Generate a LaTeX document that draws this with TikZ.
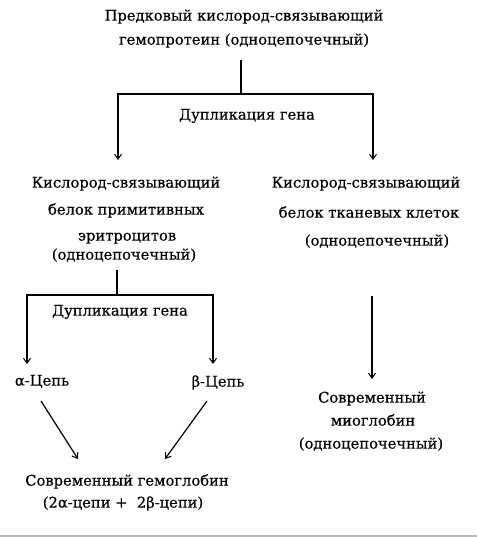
\documentclass[tikz,border=0pt]{standalone}
\usepackage{fontspec}
\setmainfont{DejaVu Serif}[FakeBold=0.4]
\usetikzlibrary{arrows.meta}
\begin{document}
\begin{tikzpicture}[x=1pt,y=1pt,
  txt/.style={font=\fontsize{14.7}{17}\selectfont, anchor=mid, inner sep=0pt},
  conn/.style={line width=1.2pt, line join=miter},
  tip/.tip={Straight Barb[length=5pt,width=7pt,line width=1pt]},
  arr/.style={conn,-tip},
  darr/.style={conn,tip-tip}]
\useasboundingbox (0,0) rectangle (477,-537);
% top
\node[txt] (t1) at (244,-18) {Предковый кислород-связывающий};
\node[txt] (t2) at (244,-42) {гемопротеин (одноцепочечный)};
\coordinate (s1) at (241,-60);
\coordinate (j1) at (241,-94);
\coordinate (jl) at (118,-94);
\coordinate (jr) at (373,-94);
\coordinate (el) at (118,-160);
\coordinate (er) at (373,-160);
\draw[conn] (s1) -- (j1);
\draw[darr] (el) -- (jl) -- (jr) -- (er);
\node[txt] (dup1) at (247,-117) {Дупликация гена};
% left block
\node[txt] (l1) at (126,-185) {Кислород-связывающий};
\node[txt] (l2) at (126,-212) {белок примитивных};
\node[txt] (l3) at (127,-238) {эритроцитов};
\node[txt] (l4) at (124,-257) {(одноцепочечный)};
% right block
\node[txt] (r1) at (366,-185) {Кислород-связывающий};
\node[txt] (r2) at (369,-215) {белок тканевых клеток};
\node[txt] (r3) at (377,-243) {(одноцепочечный)};
% second duplication
\coordinate (s2) at (117,-270);
\coordinate (j2) at (117,-295);
\coordinate (jl2) at (27,-295);
\coordinate (jr2) at (213,-295);
\coordinate (el2) at (27,-364);
\coordinate (er2) at (213,-364);
\draw[conn] (s2) -- (j2);
\draw[darr] (el2) -- (jl2) -- (jr2) -- (er2);
\node[txt] (dup2) at (120,-313) {Дупликация гена};
\node[txt] (alpha) at (42,-383) {α-Цепь};
\node[txt] (beta) at (218,-384) {β-Цепь};
% hemoglobin
\node[txt] (h1) at (127,-483) {Современный гемоглобин};
\node[txt] (h2) at (123,-505) {(2α-цепи +\ \ 2β-цепи)};
\coordinate (a1) at (41,-401);
\coordinate (a2) at (78,-459);
\coordinate (b1) at (207,-401);
\coordinate (b2) at (165,-459);
\draw[arr] (a1) -- (a2);
\draw[arr] (b1) -- (b2);
% myoglobin
\coordinate (m0) at (372,-296);
\coordinate (m1) at (372,-379);
\draw[arr] (m0) -- (m1);
\node[txt] (my1) at (372,-400) {Современный};
\node[txt] (my2) at (373,-423) {миоглобин};
\node[txt] (my3) at (371,-446) {(одноцепочечный)};
% bottom rule
\draw[gray!55, line width=1.3pt] (0,-536) -- (477,-536);
\end{tikzpicture}
\end{document}
